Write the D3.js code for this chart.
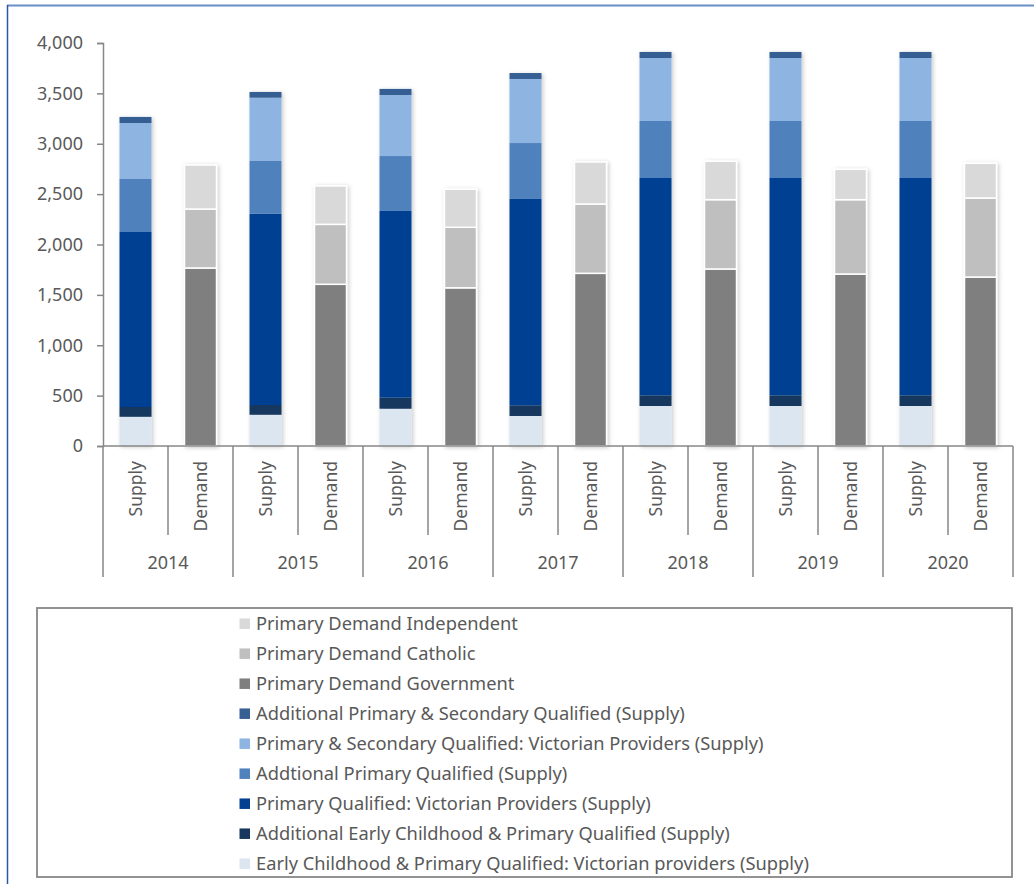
<!DOCTYPE html>
<html>
<head>
<meta charset="utf-8">
<script src="https://cdn.jsdelivr.net/npm/d3@7/dist/d3.min.js"></script>
<style>
  html, body { margin: 0; padding: 0; background: #fff; }
  svg { display: block; font-family: "Noto Sans", sans-serif; }
</style>
</head>
<body>
<svg id="chart" width="1034" height="884"></svg>
<script>
// Teacher supply vs demand, primary, by year
const years = ["2014", "2015", "2016", "2017", "2018", "2019", "2020"];
const kinds = ["Supply", "Demand"];
const yTicks = [0, 500, 1000, 1500, 2000, 2500, 3000, 3500, 4000];

// Supply components (stacked bottom to top)
const earlyChildhoodVic   = [290, 310, 370, 298, 397, 397, 397];
const additionalEarly     = [97, 97, 110, 106, 106, 106, 106];
const primaryVic          = [1737, 1899, 1853, 2048, 2157, 2157, 2157];
const additionalPrimary   = [526, 523, 545, 555, 566, 566, 566];
const primarySecondaryVic = [556, 628, 606, 636, 625, 625, 625];
const additionalPrimSec   = [60, 57, 60, 59, 60, 60, 60];

// Demand components (stacked bottom to top)
const demandGovernment  = [1767, 1605, 1570, 1714, 1757, 1707, 1677];
const demandCatholic    = [585, 595, 601, 688, 688, 738, 784];
const demandIndependent = [437, 381, 377, 417, 381, 301, 345];

const supplySeries = [
  { key: "Early Childhood & Primary Qualified: Victorian providers (Supply)", values: earlyChildhoodVic, color: "#dce6f1" },
  { key: "Additional Early Childhood & Primary Qualified (Supply)", values: additionalEarly, color: "#17375e" },
  { key: "Primary Qualified: Victorian Providers (Supply)", values: primaryVic, color: "#044092" },
  { key: "Addtional Primary Qualified (Supply)", values: additionalPrimary, color: "#4f81bd" },
  { key: "Primary & Secondary Qualified: Victorian Providers (Supply)", values: primarySecondaryVic, color: "#8eb4e2" },
  { key: "Additional Primary & Secondary Qualified (Supply)", values: additionalPrimSec, color: "#365f93" }
];
const demandSeries = [
  { key: "Primary Demand Government", values: demandGovernment, color: "#7f7f7f" },
  { key: "Primary Demand Catholic", values: demandCatholic, color: "#bfbfbf" },
  { key: "Primary Demand Independent", values: demandIndependent, color: "#d9d9d9" }
];
// Legend order (top to bottom)
const legendOrder = [...demandSeries].reverse().concat([...supplySeries].reverse());

const svg = d3.select("#chart");
const axisColor = "#878787";
const textColor = "#595959";

// Outer frame edges
svg.append("line").attr("x1", 7).attr("x2", 1034).attr("y1", 5.5).attr("y2", 5.5)
  .attr("stroke", "#6a8ec6").attr("stroke-width", 2);
svg.append("line").attr("x1", 7.5).attr("x2", 7.5).attr("y1", 5).attr("y2", 884)
  .attr("stroke", "#2a56a4").attr("stroke-width", 1.5);

// Soft shadow for bars
const defs = svg.append("defs");
const f = defs.append("filter").attr("id", "shadow").attr("x", "-30%").attr("y", "-10%").attr("width", "160%").attr("height", "120%");
f.append("feDropShadow").attr("dx", 1.5).attr("dy", 1).attr("stdDeviation", 2)
  .attr("flood-color", "#000").attr("flood-opacity", 0.22);

const plotLeft = 103, plotRight = 1013, plotTop = 43, plotBottom = 446;

const x0 = d3.scaleBand().domain(years).range([plotLeft, plotRight]);
const x1 = d3.scaleBand().domain(kinds).range([0, x0.bandwidth()]);
const y = d3.scaleLinear().domain([0, 4000]).range([plotBottom, plotTop]);
const barW = 32;

// Y axis
const yAxis = svg.append("g").attr("transform", `translate(${plotLeft},0)`)
  .call(d3.axisLeft(y).tickValues(yTicks).tickFormat(d3.format(",")).tickSize(6).tickPadding(14));
yAxis.select(".domain").attr("stroke", axisColor).attr("stroke-width", 1.5);
yAxis.selectAll(".tick line").attr("stroke", axisColor).attr("stroke-width", 1.5);
yAxis.selectAll(".tick text").attr("fill", textColor).style("font-size", "18px")
  .style("font-family", "'Noto Sans', sans-serif");

// Stacks
function stackFor(series) {
  const rows = years.map((yr, i) => {
    const r = { year: yr };
    series.forEach(s => { r[s.key] = s.values[i]; });
    return r;
  });
  return d3.stack().keys(series.map(s => s.key))(rows);
}

function drawStack(series, kind, outline) {
  const stacked = stackFor(series);
  const g = svg.append("g").attr("filter", "url(#shadow)");
  stacked.forEach((layer, li) => {
    g.selectAll(null).data(layer).enter().append("rect")
      .attr("x", d => x0(d.data.year) + x1(kind) + (x1.bandwidth() - barW) / 2)
      .attr("width", barW)
      .attr("y", d => y(d[1]))
      .attr("height", d => y(d[0]) - y(d[1]))
      .attr("fill", series[li].color)
      .attr("stroke", outline ? "#ffffff" : "none")
      .attr("stroke-width", outline ? 1.5 : 0);
  });
}
drawStack(supplySeries, "Supply", false);
drawStack(demandSeries, "Demand", true);

// X axis baseline and category separators
const xg = svg.append("g").attr("stroke", axisColor).attr("stroke-width", 1.5);
xg.append("line").attr("x1", plotLeft).attr("x2", plotRight).attr("y1", plotBottom).attr("y2", plotBottom);
years.forEach(yr => {
  const gx = x0(yr);
  xg.append("line").attr("x1", gx).attr("x2", gx).attr("y1", plotBottom).attr("y2", 577);
  const mx = gx + x1("Demand");
  xg.append("line").attr("x1", mx).attr("x2", mx).attr("y1", plotBottom).attr("y2", 535);
});
xg.append("line").attr("x1", plotRight).attr("x2", plotRight).attr("y1", plotBottom).attr("y2", 577);

// Sub-category labels (rotated)
years.forEach(yr => {
  kinds.forEach(k => {
    const cx = x0(yr) + x1(k) + x1.bandwidth() / 2;
    svg.append("text")
      .attr("transform", `translate(${cx + 6},461) rotate(-90)`)
      .attr("text-anchor", "end")
      .attr("fill", textColor)
      .style("font-size", "17.5px")
      .text(k);
  });
  svg.append("text")
    .attr("x", x0(yr) + x0.bandwidth() / 2)
    .attr("y", 569)
    .attr("text-anchor", "middle")
    .attr("fill", textColor)
    .style("font-size", "18px")
    .text(yr);
});

// Legend
svg.append("rect").attr("x", 37).attr("y", 608).attr("width", 975).attr("height", 269)
  .attr("fill", "none").attr("stroke", axisColor).attr("stroke-width", 1.8);
const lg = svg.append("g");
legendOrder.forEach((s, i) => {
  const cy = 623.7 + i * 30;
  lg.append("rect").attr("x", 239.5).attr("y", cy - 5.25).attr("width", 10.5).attr("height", 10.5).attr("fill", s.color);
  lg.append("text")
    .attr("x", 256)
    .attr("y", cy + 6.5)
    .attr("fill", textColor)
    .style("font-size", "18.3px")
    .text(s.key);
});
</script>
</body>
</html>
